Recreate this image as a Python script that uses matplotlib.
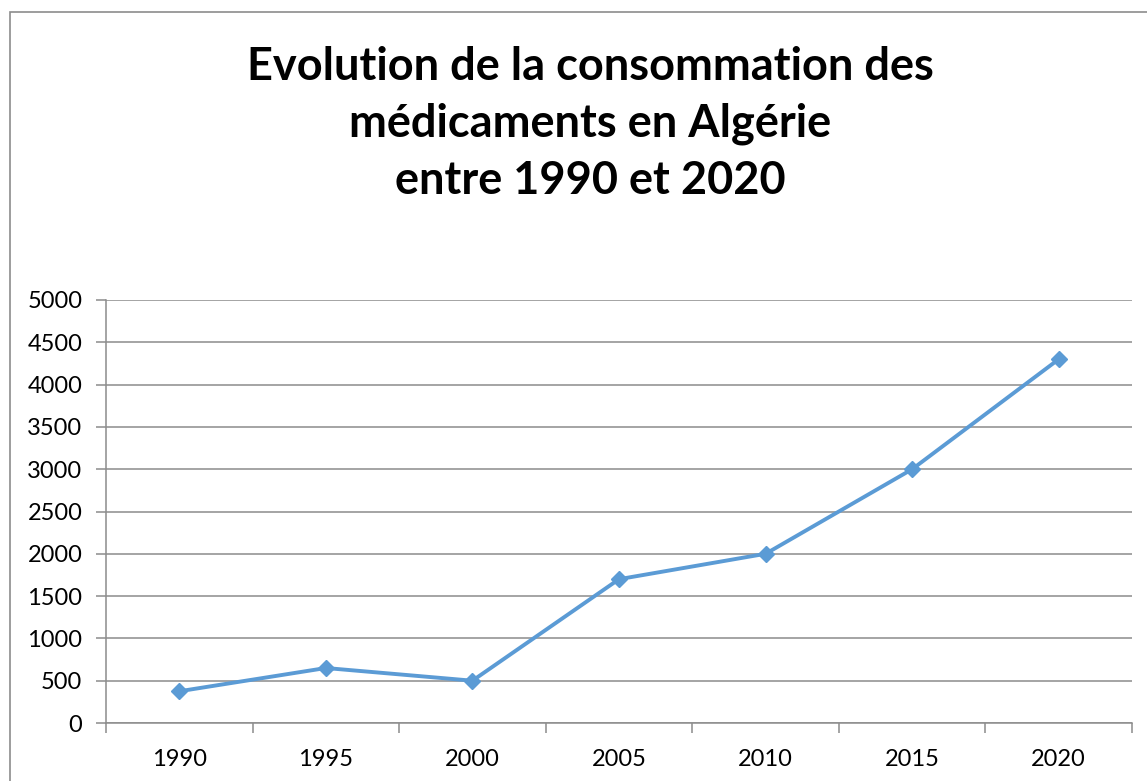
import numpy as np
import matplotlib.pyplot as plt
from matplotlib.patches import Rectangle

years = ['1990', '1995', '2000', '2005', '2010', '2015', '2020']
consumption = [375, 650, 500, 1700, 2000, 3000, 4300]
y_ticks = list(range(0, 5001, 500))

title = 'Evolution de la consommation des\nmédicaments en Algérie\nentre 1990 et 2020'

plt.rcParams['font.family'] = ['Lato', 'DejaVu Sans']

fig = plt.figure(figsize=(11.47, 7.81), dpi=100)
ax = fig.add_axes([106 / 1147, 58 / 781, 1026 / 1147, 423 / 781])

# chart area border (extends past the right and bottom edge)
fig.add_artist(Rectangle((10 / 1147, -0.1), 2, 1.1 - 12 / 781, transform=fig.transFigure,
                         fill=False, edgecolor='#8c8c8c', linewidth=1.2))

x = np.arange(len(years))
ax.plot(x, consumption, color='#5B9BD5', linewidth=2.8, marker='D', markersize=8.5,
        markeredgecolor='#5B9BD5')

ax.set_xlim(-0.5, len(years) - 0.5)
ax.set_ylim(0, 5000)
ax.set_yticks(y_ticks)
ax.set_xticks(x)
ax.set_xticklabels(years)
ax.set_xticks(np.arange(len(years) + 1) - 0.5, minor=True)

ax.yaxis.grid(True, color='#8c8c8c', linewidth=1.1)
ax.set_axisbelow(True)
for s in ['top', 'right']:
    ax.spines[s].set_visible(False)
for s in ['left', 'bottom']:
    ax.spines[s].set_color('#8c8c8c')
    ax.spines[s].set_linewidth(1.1)

ax.tick_params(axis='y', length=7, width=1.1, color='#8c8c8c', labelsize=17, pad=10)
ax.tick_params(axis='x', which='major', length=0, labelsize=17, pad=19)
ax.tick_params(axis='x', which='minor', length=7, width=1.1, color='#8c8c8c')

fig.text(590 / 1147, 1 - 124 / 781, title, ha='center', va='center', fontsize=32.5,
         fontweight='bold', linespacing=1.42)

fig.savefig('out.png', dpi=100)
